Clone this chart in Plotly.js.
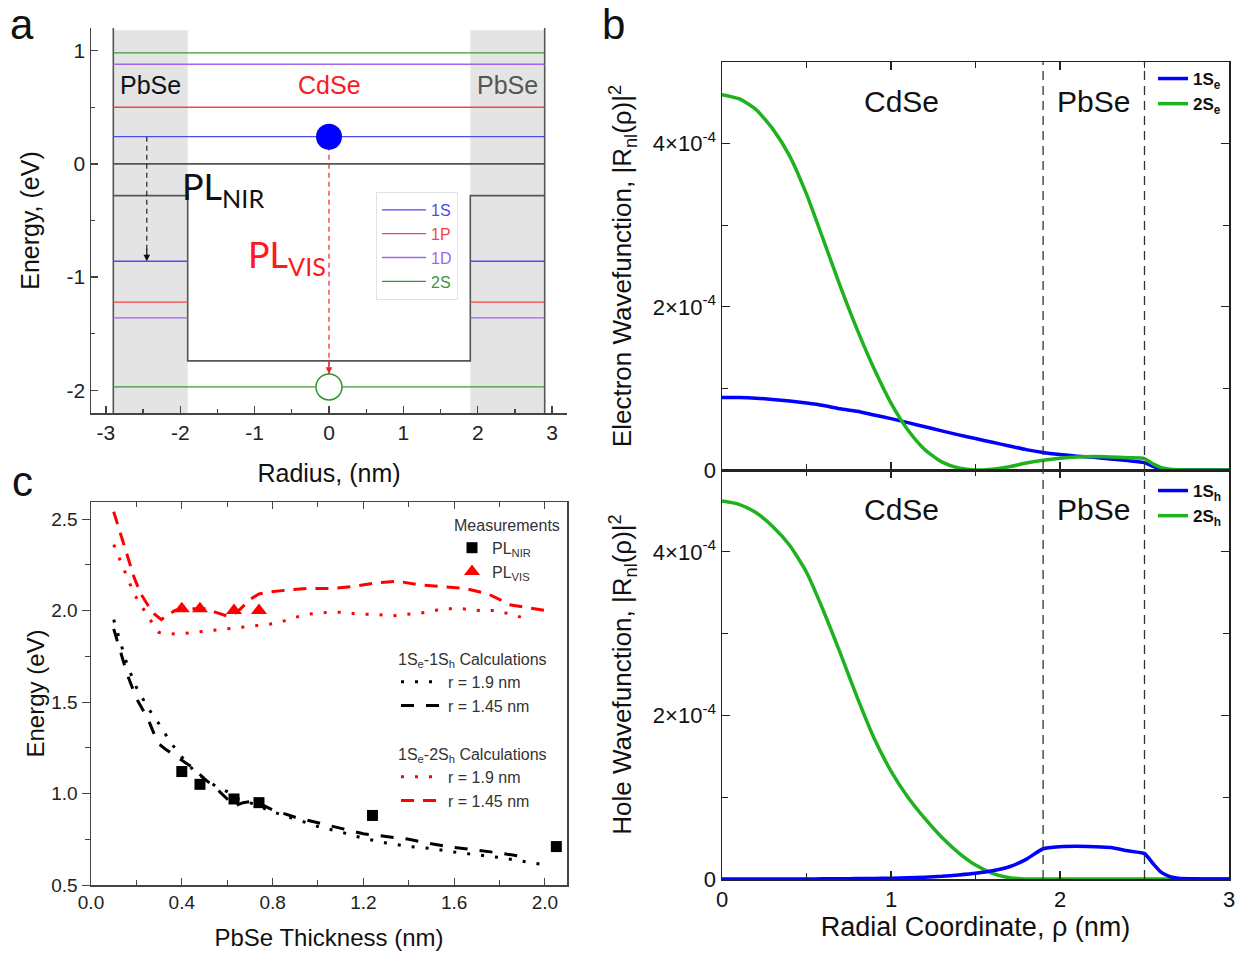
<!DOCTYPE html>
<html>
<head>
<meta charset="utf-8">
<script src="https://cdn.plot.ly/plotly-3.0.1.min.js"></script>
<style>html,body{margin:0;padding:0;background:#fff}#chart{width:1244px;height:955px}</style>
</head>
<body>
<div id="chart"></div>
<script>
// ================= Panel a : energy diagram =================
const levelNames = ['1S', '1P', '1D', '2S'];
const levelColors = ['#4b4bf2', '#f04646', '#a264ee', '#3a983a'];
const electronLevels = [0.24, 0.50, 0.88, 0.98];
const holeLevels = [-0.86, -1.22, -1.36, -1.97];
const holeLevelInCore = [false, false, false, true];
const coreRadius = 1.9;
const shellRadius = 2.9;
const conductionEdge = 0.0;            // CdSe core and PbSe shell
const valenceEdgeCore = -1.74;         // CdSe
const valenceEdgeShell = -0.28;        // PbSe
const nirArrowX = -2.45;
const radiusTicks = [-3, -2, -1, 0, 1, 2, 3];
const energyTicks = [-2, -1, 0, 1];

// ================= Panel b : radial wavefunctions (units of 1e-4) =================
const rho = [0, 0.1, 0.2, 0.3, 0.4, 0.5, 0.6, 0.7, 0.8, 0.9, 1.0, 1.1, 1.2, 1.3, 1.4, 1.5, 1.6, 1.7, 1.8, 1.9,
             2.0, 2.1, 2.2, 2.3, 2.4, 2.5, 2.55, 2.6, 2.65, 2.7, 2.8, 2.9, 3.0];
const elec1S = [0.89, 0.888, 0.88, 0.865, 0.845, 0.82, 0.79, 0.75, 0.72, 0.675, 0.63, 0.58, 0.53, 0.48, 0.43, 0.385, 0.34, 0.295, 0.25, 0.215,
                0.19, 0.17, 0.155, 0.135, 0.115, 0.09, 0.045, 0.014, 0.004, 0.001, 0, 0, 0];
const elec2S = [4.60, 4.55, 4.42, 4.18, 3.85, 3.38, 2.82, 2.25, 1.72, 1.24, 0.82, 0.49, 0.25, 0.10, 0.025, 0.0, 0.01, 0.04, 0.085, 0.12,
                0.145, 0.16, 0.165, 0.16, 0.15, 0.14, 0.075, 0.03, 0.01, 0.003, 0, 0, 0];
const hole1S = [0, 0, 0, 0, 0.001, 0.001, 0.002, 0.003, 0.005, 0.007, 0.01, 0.015, 0.022, 0.033, 0.05, 0.07, 0.10, 0.15, 0.24, 0.37,
                0.395, 0.40, 0.395, 0.385, 0.345, 0.31, 0.19, 0.08, 0.03, 0.01, 0.002, 0, 0];
const hole2S = [4.62, 4.58, 4.48, 4.31, 4.08, 3.75, 3.28, 2.76, 2.22, 1.72, 1.32, 1.00, 0.74, 0.51, 0.32, 0.17, 0.07, 0.015, 0, 0,
                0, 0, 0, 0, 0, 0, 0, 0, 0, 0, 0, 0, 0];
const waveScale = 1e-4;
const interfaceRadii = [1.9, 2.5];
const waveTickVals = [0, 2e-4, 4e-4];
const waveTickText = ['0', '2×10<sup>-4</sup>', '4×10<sup>-4</sup>'];
const regionLabelLevel = 4.52e-4;

// ================= Panel c : PL energies vs PbSe thickness =================
const nirThickness = [0.40, 0.48, 0.63, 0.74, 1.24, 2.05];
const nirEnergy    = [1.12, 1.05, 0.97, 0.95, 0.88, 0.71];
const visThickness = [0.40, 0.48, 0.63, 0.74];
const visEnergy    = [2.01, 2.01, 2.00, 2.00];

const ss19x = [0.10, 0.13, 0.16, 0.20, 0.25, 0.30, 0.35, 0.40, 0.45, 0.50, 0.55, 0.60, 0.65, 0.70, 0.80, 0.90, 1.00, 1.10, 1.20, 1.30, 1.40, 1.50, 1.60, 1.70, 1.80, 1.90, 2.00];
const ss19y = [1.95, 1.82, 1.70, 1.58, 1.47, 1.38, 1.28, 1.20, 1.13, 1.08, 1.04, 1.01, 0.97, 0.95, 0.90, 0.86, 0.82, 0.79, 0.755, 0.73, 0.71, 0.70, 0.68, 0.665, 0.65, 0.63, 0.61];
const ss145x = [0.10, 0.13, 0.16, 0.20, 0.25, 0.28, 0.30, 0.33, 0.40, 0.45, 0.50, 0.55, 0.60, 0.63, 0.67, 0.72, 0.80, 0.90, 1.00, 1.10, 1.20, 1.30, 1.40, 1.50, 1.60, 1.70, 1.80, 1.90];
const ss145y = [1.90, 1.78, 1.65, 1.52, 1.41, 1.32, 1.27, 1.24, 1.18, 1.14, 1.08, 1.03, 0.97, 0.93, 0.95, 0.96, 0.91, 0.87, 0.84, 0.81, 0.78, 0.765, 0.75, 0.725, 0.705, 0.69, 0.675, 0.655];
const s2s19x = [0.10, 0.13, 0.16, 0.19, 0.22, 0.26, 0.30, 0.38, 0.45, 0.52, 0.60, 0.67, 0.75, 0.82, 0.89, 0.96, 1.04, 1.11, 1.18, 1.25, 1.32, 1.40, 1.48, 1.55, 1.63, 1.71, 1.78, 1.85, 1.93];
const s2s19y = [2.36, 2.27, 2.19, 2.09, 2.03, 1.95, 1.88, 1.87, 1.88, 1.89, 1.90, 1.91, 1.92, 1.93, 1.96, 1.98, 1.99, 1.99, 1.98, 1.98, 1.97, 1.98, 1.99, 2.01, 2.01, 2.00, 2.00, 1.98, 1.95];
const s2s145x = [0.10, 0.13, 0.16, 0.19, 0.22, 0.25, 0.28, 0.31, 0.33, 0.37, 0.40, 0.45, 0.50, 0.55, 0.60, 0.63, 0.66, 0.70, 0.74, 0.78, 0.85, 0.95, 1.05, 1.15, 1.25, 1.35, 1.45, 1.55, 1.65, 1.75, 1.85, 2.00];
const s2s145y = [2.54, 2.42, 2.30, 2.18, 2.09, 2.03, 1.98, 1.95, 1.97, 2.00, 2.01, 2.01, 2.01, 1.99, 1.97, 1.98, 2.01, 2.06, 2.09, 2.10, 2.11, 2.12, 2.12, 2.13, 2.15, 2.16, 2.14, 2.13, 2.12, 2.09, 2.03, 2.00];

// ================= Layout helpers =================
const W = 1244, H = 955;
const FONT = 'Arial, "Liberation Sans", sans-serif';
const dx = (a, b) => [a / W, b / W];
const dy = (top, bottom) => [1 - bottom / H, 1 - top / H];
const energyRangeA = [-2.2, 1.2];
const scaleWave = arr => arr.map(v => v * waveScale);

const data = [];

// ---- panel a traces ----
data.push({
  x: [-shellRadius, -shellRadius, null, shellRadius, shellRadius, null, -shellRadius, shellRadius, null,
      -shellRadius, -coreRadius, -coreRadius, coreRadius, coreRadius, shellRadius],
  y: [energyRangeA[1], energyRangeA[0], null, energyRangeA[1], energyRangeA[0], null, conductionEdge, conductionEdge, null,
      valenceEdgeShell, valenceEdgeShell, valenceEdgeCore, valenceEdgeCore, valenceEdgeShell, valenceEdgeShell],
  xaxis: 'x', yaxis: 'y', mode: 'lines', line: {color: '#555', width: 1.6}, showlegend: false, hoverinfo: 'skip'
});
levelNames.forEach((name, i) => {
  const hx = holeLevelInCore[i] ? [-shellRadius, shellRadius] : [-shellRadius, -coreRadius, null, coreRadius, shellRadius];
  const hy = holeLevelInCore[i] ? [holeLevels[i], holeLevels[i]] : [holeLevels[i], holeLevels[i], null, holeLevels[i], holeLevels[i]];
  data.push({
    x: [-shellRadius, shellRadius, null].concat(hx),
    y: [electronLevels[i], electronLevels[i], null].concat(hy),
    xaxis: 'x', yaxis: 'y', mode: 'lines', line: {color: levelColors[i], width: 1.3},
    name: `<span style="color:${levelColors[i]}">${name}</span>`, legend: 'legend'
  });
});
data.push({
  x: [nirArrowX, nirArrowX], y: [electronLevels[0], holeLevels[0]],
  xaxis: 'x', yaxis: 'y', mode: 'lines', line: {color: '#222', width: 1.2, dash: '5px,4px'}, showlegend: false
});
data.push({
  x: [0, 0], y: [electronLevels[0], holeLevels[3]],
  xaxis: 'x', yaxis: 'y', mode: 'lines', line: {color: '#e8262a', width: 1.2, dash: '5px,4px'}, showlegend: false
});
data.push({
  x: [0], y: [electronLevels[0]], xaxis: 'x', yaxis: 'y', mode: 'markers',
  marker: {symbol: 'circle', size: 26, color: '#0000ff', line: {width: 0}}, showlegend: false
});
data.push({
  x: [0], y: [holeLevels[3]], xaxis: 'x', yaxis: 'y', mode: 'markers',
  marker: {symbol: 'circle', size: 26, color: '#ffffff', line: {width: 1.5, color: '#2f962f'}}, showlegend: false
});

// ---- panel b traces ----
data.push({x: rho, y: scaleWave(elec1S), xaxis: 'x2', yaxis: 'y2', mode: 'lines',
  line: {color: '#0000ff', width: 3.5, shape: 'spline', smoothing: 0.6}, name: '<b>1S<sub>e</sub></b>', legend: 'legend2'});
data.push({x: rho, y: scaleWave(elec2S), xaxis: 'x2', yaxis: 'y2', mode: 'lines',
  line: {color: '#1fb21f', width: 3.5, shape: 'spline', smoothing: 0.6}, name: '<b>2S<sub>e</sub></b>', legend: 'legend2'});
data.push({x: rho, y: scaleWave(hole2S), xaxis: 'x3', yaxis: 'y3', mode: 'lines',
  line: {color: '#1fb21f', width: 3.5, shape: 'spline', smoothing: 0.6}, showlegend: false});
data.push({x: rho, y: scaleWave(hole1S), xaxis: 'x3', yaxis: 'y3', mode: 'lines',
  line: {color: '#0000ff', width: 3.5, shape: 'spline', smoothing: 0.6}, name: '<b>1S<sub>h</sub></b>', legend: 'legend3'});
data.push({x: [null], y: [null], xaxis: 'x3', yaxis: 'y3', mode: 'lines',
  line: {color: '#1fb21f', width: 3.5}, name: '<b>2S<sub>h</sub></b>', legend: 'legend3'});

// ---- panel c traces ----
data.push({x: ss19x, y: ss19y, xaxis: 'x4', yaxis: 'y4', mode: 'lines',
  line: {color: '#000', width: 3, dash: '3px,11px'}, name: 'r = 1.9 nm', legend: 'legend5'});
data.push({x: ss145x, y: ss145y, xaxis: 'x4', yaxis: 'y4', mode: 'lines',
  line: {color: '#000', width: 3, dash: '13px,12px'}, name: 'r = 1.45 nm', legend: 'legend5'});
data.push({x: s2s19x, y: s2s19y, xaxis: 'x4', yaxis: 'y4', mode: 'lines',
  line: {color: '#ff0000', width: 3, dash: '3px,11px'}, name: 'r = 1.9 nm', legend: 'legend6'});
data.push({x: s2s145x, y: s2s145y, xaxis: 'x4', yaxis: 'y4', mode: 'lines',
  line: {color: '#ff0000', width: 3, dash: '13px,9px'}, name: 'r = 1.45 nm', legend: 'legend6'});
data.push({x: nirThickness, y: nirEnergy, xaxis: 'x4', yaxis: 'y4', mode: 'markers',
  marker: {symbol: 'square', size: 11, color: '#000'}, name: 'PL<sub>NIR</sub>', legend: 'legend4'});
data.push({x: visThickness, y: visEnergy, xaxis: 'x4', yaxis: 'y4', mode: 'markers',
  marker: {symbol: 'triangle-up', size: 14, color: '#ff0000'}, name: 'PL<sub>VIS</sub>', legend: 'legend4'});

// ================= Axes =================
const axA = {
  showline: true, linecolor: '#444', linewidth: 1.5, ticks: 'inside', ticklen: 7, tickwidth: 1.3, tickcolor: '#444',
  showgrid: false, zeroline: false, tickfont: {size: 21, color: '#222'},
  minor: {dtick: 0.5, tick0: 0, ticks: 'inside', ticklen: 4, tickwidth: 1.2, tickcolor: '#444'}
};
const axB = {
  showline: true, linecolor: '#222', linewidth: 1.5, mirror: 'ticks', ticks: 'inside', ticklen: 8, tickwidth: 1.3,
  tickcolor: '#222', showgrid: false, zeroline: false, tickfont: {size: 22, color: '#111'}
};

const layout = {
  width: W, height: H, margin: {l: 0, r: 0, t: 0, b: 0},
  paper_bgcolor: '#fff', plot_bgcolor: 'rgba(0,0,0,0)',
  font: {family: FONT, color: '#111'},
  xaxis: Object.assign({}, axA, {
    domain: dx(91, 567), range: [-3.2, 3.2], anchor: 'y',
    tickmode: 'array', tickvals: radiusTicks, ticktext: radiusTicks.map(String),
    title: {text: 'Radius, (nm)', font: {size: 25, color: '#111'}, standoff: 22}
  }),
  yaxis: Object.assign({}, axA, {
    domain: dy(28, 413), range: energyRangeA, anchor: 'x',
    tickmode: 'array', tickvals: energyTicks, ticktext: energyTicks.map(String),
    title: {text: 'Energy, (eV)', font: {size: 25, color: '#111'}, standoff: 20}
  }),
  xaxis2: Object.assign({}, axB, {
    domain: dx(722, 1229), range: [0, 3], anchor: 'y2', dtick: 1, showticklabels: false,
    minor: {dtick: 0.5, ticks: 'inside', ticklen: 6, tickcolor: '#222'}
  }),
  yaxis2: Object.assign({}, axB, {
    domain: dy(62, 470), range: [0, 5e-4], anchor: 'x2',
    tickmode: 'array', tickvals: waveTickVals, ticktext: waveTickText,
    minor: {tickmode: 'array', tickvals: [1e-4, 3e-4], ticks: 'inside', ticklen: 6, tickcolor: '#222'},
    title: {text: 'Electron Wavefunction, |R<sub>nl</sub>(ρ)|<sup>2</sup>', font: {size: 26, color: '#111'}, standoff: 13}
  }),
  xaxis3: Object.assign({}, axB, {
    domain: dx(722, 1229), range: [0, 3], anchor: 'y3', dtick: 1,
    minor: {dtick: 0.5, ticks: 'inside', ticklen: 6, tickcolor: '#222'},
    title: {text: 'Radial Coordinate, ρ (nm)', font: {size: 27, color: '#111'}, standoff: 4}
  }),
  yaxis3: Object.assign({}, axB, {
    domain: dy(470, 879), range: [0, 5e-4], anchor: 'x3',
    tickmode: 'array', tickvals: waveTickVals, ticktext: waveTickText,
    minor: {tickmode: 'array', tickvals: [1e-4, 3e-4], ticks: 'inside', ticklen: 6, tickcolor: '#222'},
    title: {text: 'Hole Wavefunction, |R<sub>nl</sub>(ρ)|<sup>2</sup>', font: {size: 26, color: '#111'}, standoff: 13}
  }),
  xaxis4: {
    domain: dx(91, 567), range: [0, 2.097], anchor: 'y4',
    showline: true, linecolor: '#444', linewidth: 1.5, mirror: 'ticks', ticks: 'inside', ticklen: 7, tickcolor: '#444',
    showgrid: false, zeroline: false, tickfont: {size: 19, color: '#222'},
    tickmode: 'linear', tick0: 0, dtick: 0.4, tickformat: '.1f',
    minor: {dtick: 0.2, ticks: 'inside', ticklen: 5, tickcolor: '#444'},
    title: {text: 'PbSe Thickness (nm)', font: {size: 24, color: '#111'}, standoff: 17}
  },
  yaxis4: {
    domain: dy(502, 885), range: [0.5, 2.593], anchor: 'x4',
    showline: true, linecolor: '#444', linewidth: 1.5, mirror: true, ticks: 'outside', ticklen: 8, tickcolor: '#444',
    showgrid: false, zeroline: false, tickfont: {size: 19, color: '#222'},
    tickmode: 'linear', tick0: 0.5, dtick: 0.5, tickformat: '.1f',
    minor: {dtick: 0.25, ticks: 'outside', ticklen: 5, tickcolor: '#444'},
    title: {text: 'Energy (eV)', font: {size: 24, color: '#111'}, standoff: 0}
  },
  yaxis5: {
    overlaying: 'y4', side: 'right', anchor: 'x4', range: [0.5, 2.593],
    showline: false, showgrid: false, zeroline: false, showticklabels: false,
    ticks: 'inside', ticklen: 8, tickcolor: '#444', tickmode: 'linear', tick0: 0.5, dtick: 0.5,
    minor: {dtick: 0.25, ticks: 'inside', ticklen: 5, tickcolor: '#444'}
  },
  legend: {
    x: 376 / W, y: 1 - 192 / H, xanchor: 'left', yanchor: 'top', bgcolor: '#fff',
    bordercolor: '#e2e2e2', borderwidth: 1, font: {size: 16, family: FONT}, itemwidth: 44
  },
  legend2: {
    x: 1153 / W, y: 1 - 61 / H, xanchor: 'left', yanchor: 'top', bgcolor: 'rgba(0,0,0,0)',
    borderwidth: 0, font: {size: 17, family: FONT, color: '#111'}
  },
  legend3: {
    x: 1153 / W, y: 1 - 473 / H, xanchor: 'left', yanchor: 'top', bgcolor: 'rgba(0,0,0,0)',
    borderwidth: 0, font: {size: 17, family: FONT, color: '#111'}
  },
  legend4: {
    x: 452 / W, y: 1 - 510 / H, xanchor: 'left', yanchor: 'top', bgcolor: 'rgba(0,0,0,0)',
    title: {text: 'Measurements', font: {size: 16, color: '#333'}}, font: {size: 16, family: FONT, color: '#333'}
  },
  legend5: {
    x: 396 / W, y: 1 - 644 / H, xanchor: 'left', yanchor: 'top', bgcolor: 'rgba(0,0,0,0)', itemwidth: 42,
    title: {text: '1S<sub>e</sub>-1S<sub>h</sub> Calculations', font: {size: 16, color: '#333'}}, font: {size: 16, family: FONT, color: '#333'}
  },
  legend6: {
    x: 396 / W, y: 1 - 739 / H, xanchor: 'left', yanchor: 'top', bgcolor: 'rgba(0,0,0,0)', itemwidth: 42,
    title: {text: '1S<sub>e</sub>-2S<sub>h</sub> Calculations', font: {size: 16, color: '#333'}}, font: {size: 16, family: FONT, color: '#333'}
  },
  shapes: [],
  annotations: []
};

// grey PbSe shell regions (panel a)
[-1, 1].forEach(s => layout.shapes.push({
  type: 'rect', xref: 'x', yref: 'y', x0: s * coreRadius, x1: s * shellRadius,
  y0: energyRangeA[0], y1: energyRangeA[1] - 0.02, fillcolor: '#e4e4e4', line: {width: 0}, layer: 'below'
}));
// core/shell interfaces (panel b)
['y2', 'y3'].forEach(ya => interfaceRadii.forEach(r => layout.shapes.push({
  type: 'line', xref: ya === 'y2' ? 'x2' : 'x3', yref: ya + ' domain', x0: r, x1: r, y0: 0, y1: 1,
  line: {color: '#333', width: 1.3, dash: '9px,6px'}
})));

const ann = layout.annotations;
const txt = o => ann.push(Object.assign({showarrow: false, xanchor: 'center', yanchor: 'middle'}, o));
// panel letters
txt({text: 'a', xref: 'paper', yref: 'paper', x: 22 / W, y: 1, yanchor: 'top', borderpad: 0, font: {size: 42, color: '#111'}});
txt({text: 'b', xref: 'paper', yref: 'paper', x: 613 / W, y: 1, yanchor: 'top', borderpad: 0, font: {size: 42, color: '#111'}});
txt({text: 'c', xref: 'paper', yref: 'paper', x: 22 / W, y: 1 - 481 / H, font: {size: 42, color: '#111'}});
// panel a labels
const shellMid = (coreRadius + shellRadius) / 2;
txt({text: 'PbSe', xref: 'x', yref: 'y', x: -shellMid, y: 0.70, font: {size: 25, color: '#111'}});
txt({text: 'CdSe', xref: 'x', yref: 'y', x: 0, y: 0.70, font: {size: 25, color: '#ff1a1a'}});
txt({text: 'PbSe', xref: 'x', yref: 'y', x: shellMid, y: 0.70, font: {size: 25, color: '#555'}});
txt({text: 'PL<sub>NIR</sub>', xref: 'x', yref: 'y', x: -1.42, y: -0.22,
  font: {size: 36, color: '#111', family: 'Lato, "Open Sans", sans-serif'}});
txt({text: 'PL<sub>VIS</sub>', xref: 'x', yref: 'y', x: -0.56, y: -0.82,
  font: {size: 36, color: '#ff1a1a', family: 'Lato, "Open Sans", sans-serif'}});
// arrow heads
ann.push({text: '', xref: 'x', yref: 'y', x: nirArrowX, y: holeLevels[0], ax: 0, ay: -14, showarrow: true,
  arrowhead: 2, arrowsize: 1.1, arrowwidth: 1.2, arrowcolor: '#111'});
ann.push({text: '', xref: 'x', yref: 'y', x: 0, y: holeLevels[3], ax: 0, ay: -28, standoff: 13, showarrow: true,
  arrowhead: 2, arrowsize: 1.1, arrowwidth: 1.2, arrowcolor: '#e8262a'});
// panel b region labels
['y2', 'y3'].forEach(ya => {
  const xa = ya === 'y2' ? 'x2' : 'x3';
  txt({text: 'CdSe', xref: xa, yref: ya, x: 1.06, y: regionLabelLevel, font: {size: 30, color: '#111'}});
  txt({text: 'PbSe', xref: xa, yref: ya, x: (interfaceRadii[0] + interfaceRadii[1]) / 2, y: regionLabelLevel, font: {size: 30, color: '#111'}});
});

Plotly.newPlot('chart', data, layout, {staticPlot: true, displayModeBar: false});
</script>
</body>
</html>
